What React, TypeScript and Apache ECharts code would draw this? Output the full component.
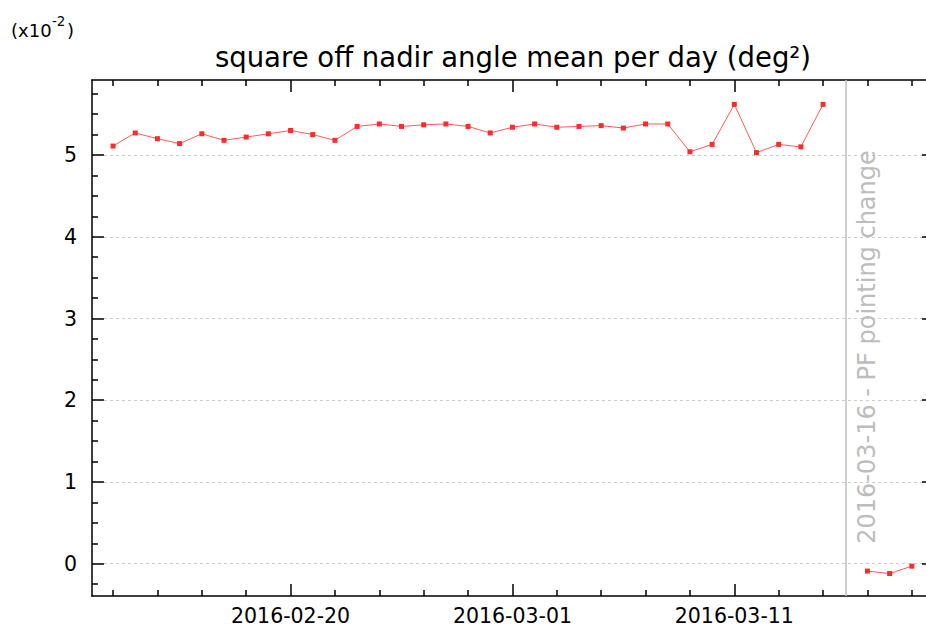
import React, { useEffect, useRef } from "react";
import * as echarts from "echarts";

// ---- data (values in units of 1e-2 deg²) ----
const datesBefore = [
  "2016-02-12", "2016-02-13", "2016-02-14", "2016-02-15", "2016-02-16", "2016-02-17",
  "2016-02-18", "2016-02-19", "2016-02-20", "2016-02-21", "2016-02-22", "2016-02-23",
  "2016-02-24", "2016-02-25", "2016-02-26", "2016-02-27", "2016-02-28", "2016-02-29",
  "2016-03-01", "2016-03-02", "2016-03-03", "2016-03-04", "2016-03-05", "2016-03-06",
  "2016-03-07", "2016-03-08", "2016-03-09", "2016-03-10", "2016-03-11", "2016-03-12",
  "2016-03-13", "2016-03-14", "2016-03-15",
];
const valuesBefore = [
  5.11, 5.27, 5.2, 5.14, 5.26, 5.18,
  5.22, 5.26, 5.3, 5.25, 5.18, 5.35,
  5.38, 5.35, 5.37, 5.38, 5.35, 5.27,
  5.34, 5.38, 5.34, 5.35, 5.36, 5.33,
  5.38, 5.38, 5.04, 5.13, 5.62, 5.03,
  5.13, 5.1, 5.62,
];
const datesAfter = ["2016-03-17", "2016-03-18", "2016-03-19"];
const valuesAfter = [-0.09, -0.12, -0.03];

const eventDate = "2016-03-16";
const eventLabel = "2016-03-16 - PF pointing change";

const xMajorTicks = ["2016-02-20", "2016-03-01", "2016-03-11"];
const xMinorTicks = [
  "2016-02-12", "2016-02-14", "2016-02-16", "2016-02-18", "2016-02-22", "2016-02-24",
  "2016-02-26", "2016-02-28", "2016-03-03", "2016-03-05", "2016-03-07", "2016-03-09",
  "2016-03-13", "2016-03-15", "2016-03-17", "2016-03-19",
];
const yMajorTicks = [0, 1, 2, 3, 4, 5];
const yMinorTicks = [
  -0.25, 0.25, 0.5, 0.75, 1.25, 1.5, 1.75, 2.25, 2.5, 2.75, 3.25, 3.5, 3.75,
  4.25, 4.5, 4.75, 5.25, 5.5, 5.75,
];

const xMin = "2016-02-11T01:12:00Z";
const xMax = "2016-03-20T00:00:00Z";
const yMin = -0.395;
const yMax = 5.918;

const titleText = "square off nadir angle mean per day (deg²)";

const ts = (d: string) => Date.parse(d.length === 10 ? d + "T00:00:00Z" : d);
const FONT = "DejaVu Sans";

export default function App() {
  const ref = useRef<HTMLDivElement>(null);
  useEffect(() => {
    if (!ref.current) return;
    const chart = echarts.init(ref.current, undefined, { renderer: "svg" });
    const min = ts(xMin);
    const max = ts(xMax);
    const fmt = (v: number) => new Date(v).toISOString().slice(0, 10);

    const mkX = (position: "bottom" | "top", ticks: string[], major: boolean, main: boolean) => ({
      type: "value",
      position,
      min,
      max,
      axisLine: { show: main, onZero: false, lineStyle: { color: "#000", width: 1.5 } },
      axisTick: {
        show: true,
        inside: true,
        length: major ? 12 : 6,
        customValues: ticks.map(ts),
        lineStyle: { color: "#000", width: 1.5 },
      },
      axisLabel: {
        show: position === "bottom" && major,
        customValues: ticks.map(ts),
        formatter: fmt,
        fontFamily: FONT,
        fontSize: 20.5,
        color: "#000",
        margin: 9,
      },
      splitLine: { show: false },
    });
    const mkY = (position: "left" | "right", ticks: number[], major: boolean, main: boolean) => ({
      type: "value",
      position,
      min: yMin,
      max: yMax,
      axisLine: { show: main, onZero: false, lineStyle: { color: "#000", width: 1.5 } },
      axisTick: {
        show: true,
        inside: true,
        length: major ? 12 : 6,
        customValues: ticks,
        lineStyle: { color: "#000", width: 1.5 },
      },
      axisLabel: {
        show: position === "left" && major,
        customValues: ticks,
        fontFamily: FONT,
        fontSize: 20.5,
        color: "#000",
        margin: 15,
      },
      splitLine: {
        show: position === "left" && major,
        lineStyle: { color: "#cccccc", type: [3, 3], width: 1 },
      },
    });

    const lineStyle = { color: "rgba(255,50,50,0.8)", width: 1 };
    const itemStyle = { color: "#ff2a2a" };

    chart.setOption({
      animation: false,
      grid: { left: 92, top: 80, width: 842, height: 516, containLabel: false },
      xAxis: [
        mkX("bottom", xMajorTicks, true, true),
        mkX("bottom", xMinorTicks, false, false),
        mkX("top", xMajorTicks, true, true),
        mkX("top", xMinorTicks, false, false),
      ],
      yAxis: [
        mkY("left", yMajorTicks, true, true),
        mkY("left", yMinorTicks, false, false),
        mkY("right", yMajorTicks, true, true),
        mkY("right", yMinorTicks, false, false),
      ],
      graphic: [
        {
          type: "text",
          x: 513,
          y: 57,
          style: {
            text: titleText,
            fontFamily: FONT,
            fontSize: 27.5,
            fill: "#000",
            textAlign: "center",
            textVerticalAlign: "middle",
          },
        },
        {
          type: "text",
          x: 11,
          y: 30,
          style: { text: "(x10", fontFamily: FONT, fontSize: 18, fill: "#000", textVerticalAlign: "middle" },
        },
        {
          type: "text",
          x: 52,
          y: 21,
          style: { text: "-2", fontFamily: FONT, fontSize: 13.5, fill: "#000", textVerticalAlign: "middle" },
        },
        {
          type: "text",
          x: 67,
          y: 30,
          style: { text: ")", fontFamily: FONT, fontSize: 18, fill: "#000", textVerticalAlign: "middle" },
        },
      ],
      series: [
        {
          type: "line",
          xAxisIndex: 0,
          yAxisIndex: 0,
          data: datesBefore.map((d, i) => [ts(d), valuesBefore[i]]),
          symbol: "rect",
          symbolSize: 5,
          lineStyle,
          itemStyle,
          markLine: {
            silent: true,
            symbol: "none",
            lineStyle: { color: "#bfbfbf", type: "solid", width: 1.5 },
            label: {
              show: true,
              position: "insideMiddleBottom",
              formatter: eventLabel,
              color: "#bdbdbd",
              fontFamily: FONT,
              fontSize: 24,
              distance: 10,
              padding: [0, 18, 0, 0],
            },
            data: [{ xAxis: ts(eventDate) }],
          },
        },
        {
          type: "line",
          xAxisIndex: 0,
          yAxisIndex: 0,
          data: datesAfter.map((d, i) => [ts(d), valuesAfter[i]]),
          symbol: "rect",
          symbolSize: 5,
          lineStyle,
          itemStyle,
        },
      ],
    });
    return () => chart.dispose();
  }, []);
  return (
    <div style={{ position: "absolute", left: 0, top: 0, width: 926, height: 630, overflow: "hidden", background: "#fff" }}>
      <div ref={ref} style={{ width: 944, height: 630 }} />
    </div>
  );
}
